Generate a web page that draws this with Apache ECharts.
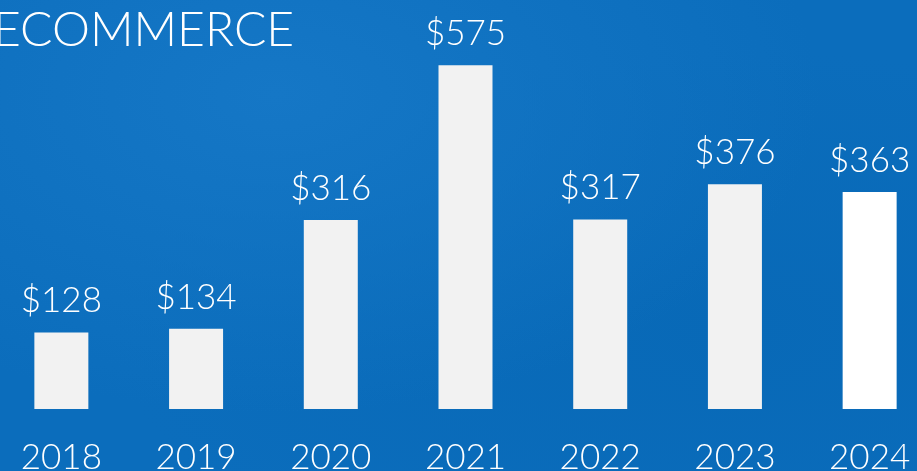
<!DOCTYPE html>
<html>
<head>
<meta charset="utf-8">
<script src="https://cdn.jsdelivr.net/npm/echarts@6/dist/echarts.min.js"></script>
<style>
  html, body { margin: 0; padding: 0; }
  #chart {
    width: 917px;
    height: 471px;
    background: radial-gradient(ellipse at 30% 20%, #1577c6 0%, rgba(21,119,198,0) 60%),
                radial-gradient(ellipse at 80% 70%, #0869b7 0%, rgba(8,105,183,0) 60%),
                #0b6dbc;
  }
</style>
</head>
<body>
<div id="chart"></div>
<script>
var years = ['2018', '2019', '2020', '2021', '2022', '2023', '2024'];
var values = [128, 134, 316, 575, 317, 376, 363];
var barColors = ['#f2f2f2', '#f2f2f2', '#f2f2f2', '#f2f2f2', '#f2f2f2', '#f2f2f2', '#ffffff'];

var font = 'Lato, "Open Sans", sans-serif';

var chart = echarts.init(document.getElementById('chart'));
var option = {
  backgroundColor: 'transparent',
  title: {
    text: 'ECOMMERCE',
    left: -12,
    top: 2,
    textStyle: {
      color: '#ffffff',
      fontFamily: font,
      fontWeight: 300,
      fontSize: 48
    }
  },
  grid: {
    left: -6,
    right: -20,
    top: 0,
    bottom: 62,
    outerBoundsMode: 'none'
  },
  xAxis: {
    type: 'category',
    data: years,
    axisLine: { show: false },
    axisTick: { show: false },
    axisLabel: {
      color: '#ffffff',
      fontFamily: font,
      fontWeight: 300,
      fontSize: 35,
      margin: 31
    }
  },
  yAxis: {
    type: 'value',
    min: 0,
    max: 684,
    show: false
  },
  series: [{
    type: 'bar',
    barWidth: 54,
    data: values.map(function (v, i) {
      return { value: v, itemStyle: { color: barColors[i] } };
    }),
    label: {
      show: true,
      position: 'top',
      distance: 14,
      formatter: '${c}',
      color: '#ffffff',
      fontFamily: font,
      fontWeight: 300,
      fontSize: 35
    }
  }]
};
chart.setOption(option);
</script>
</body>
</html>
